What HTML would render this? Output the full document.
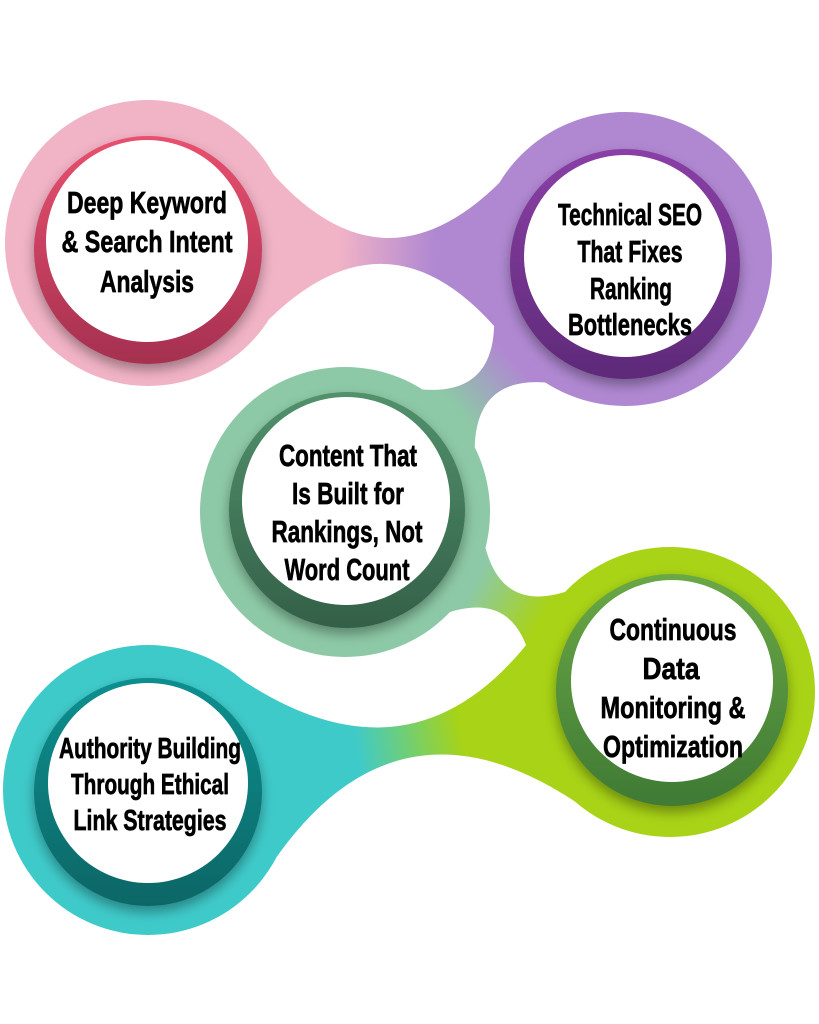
<!DOCTYPE html>
<html><head><meta charset="utf-8">
<style>
html,body{margin:0;padding:0;background:#fff;}
svg{display:block;}
text{font-family:"Liberation Sans Narrow","Liberation Sans",sans-serif;font-weight:bold;fill:#000;stroke:#000;stroke-width:0.7;text-anchor:middle;}
</style></head>
<body>
<svg id="s" width="819" height="1024" viewBox="0 0 819 1024" xmlns="http://www.w3.org/2000/svg">
<defs>
<filter id="sh" x="-30%" y="-30%" width="160%" height="160%"><feDropShadow dx="0" dy="6" stdDeviation="6" flood-color="#000" flood-opacity="0.35"/></filter>
<linearGradient id="gp" x1="0" y1="0" x2="0" y2="1"><stop offset="0" stop-color="#e9506f"/><stop offset="1" stop-color="#a53050"/></linearGradient>
<linearGradient id="gu" x1="0" y1="0" x2="0" y2="1"><stop offset="0" stop-color="#8a3fa6"/><stop offset="1" stop-color="#5e2a78"/></linearGradient>
<linearGradient id="gg" x1="0" y1="0" x2="0" y2="1"><stop offset="0" stop-color="#52916c"/><stop offset="1" stop-color="#336048"/></linearGradient>
<linearGradient id="gl" x1="0" y1="0" x2="0" y2="1"><stop offset="0" stop-color="#6aa845"/><stop offset="1" stop-color="#3f7a35"/></linearGradient>
<linearGradient id="gt" x1="0" y1="0" x2="0" y2="1"><stop offset="0" stop-color="#0d8f8f"/><stop offset="1" stop-color="#086666"/></linearGradient>
</defs>
<g id="necks"></g>
<circle cx="148" cy="243" r="143" fill="#f1b3c6"/>
<circle cx="625" cy="259" r="147" fill="#b088d2"/>
<circle cx="345" cy="512" r="145" fill="#8dc9a6"/>
<circle cx="670" cy="692" r="145" fill="#a8d316"/>
<circle cx="148" cy="790" r="145" fill="#3fcaca"/>

<circle cx="148" cy="250" r="114" fill="url(#gp)" filter="url(#sh)"/>
<circle cx="147" cy="241" r="101" fill="#fff"/>
<circle cx="625" cy="264" r="115" fill="url(#gu)" filter="url(#sh)"/>
<circle cx="625" cy="256" r="101" fill="#fff"/>
<circle cx="347" cy="510" r="118" fill="url(#gg)" filter="url(#sh)"/>
<circle cx="346" cy="501" r="104" fill="#fff"/>
<circle cx="672" cy="690" r="116" fill="url(#gl)" filter="url(#sh)"/>
<circle cx="672" cy="681" r="101" fill="#fff"/>
<circle cx="148" cy="792" r="114" fill="url(#gt)" filter="url(#sh)"/>
<circle cx="148" cy="783" r="100" fill="#fff"/>

<g font-size="31">
<text x="147" y="213" textLength="160" lengthAdjust="spacingAndGlyphs">Deep Keyword</text>
<text x="147" y="252" textLength="171" lengthAdjust="spacingAndGlyphs">&amp; Search Intent</text>
<text x="147" y="292" textLength="94" lengthAdjust="spacingAndGlyphs">Analysis</text>

<text x="630" y="225" textLength="144" lengthAdjust="spacingAndGlyphs">Technical SEO</text>
<text x="630" y="262" textLength="105" lengthAdjust="spacingAndGlyphs">That Fixes</text>
<text x="631" y="299" textLength="82" lengthAdjust="spacingAndGlyphs">Ranking</text>
<text x="630" y="335" textLength="124" lengthAdjust="spacingAndGlyphs">Bottlenecks</text>

<text x="348" y="466" textLength="138" lengthAdjust="spacingAndGlyphs">Content That</text>
<text x="348" y="504" textLength="112" lengthAdjust="spacingAndGlyphs">Is Built for</text>
<text x="347" y="542" textLength="151" lengthAdjust="spacingAndGlyphs">Rankings, Not</text>
<text x="347" y="580" textLength="125" lengthAdjust="spacingAndGlyphs">Word Count</text>

<text x="673" y="640" textLength="127" lengthAdjust="spacingAndGlyphs">Continuous</text>
<text x="671" y="679" textLength="57" lengthAdjust="spacingAndGlyphs">Data</text>
<text x="673" y="718" textLength="145" lengthAdjust="spacingAndGlyphs">Monitoring &amp;</text>
<text x="673" y="757" textLength="140" lengthAdjust="spacingAndGlyphs">Optimization</text>
</g>
<g font-size="29">
<text x="150" y="758" textLength="182" lengthAdjust="spacingAndGlyphs">Authority Building</text>
<text x="150" y="794" textLength="158" lengthAdjust="spacingAndGlyphs">Through Ethical</text>
<text x="150" y="830" textLength="153" lengthAdjust="spacingAndGlyphs">Link Strategies</text>
</g>
</svg>
<script>
(function(){
var NS="http://www.w3.org/2000/svg";
var g=document.getElementById("necks");var defs=document.querySelector("defs");
function neck(id,c1,r1,col1,c2,r2,col2,ang,pinch){
 var dx=c2[0]-c1[0],dy=c2[1]-c1[1],L=Math.hypot(dx,dy),ux=dx/L,uy=dy/L,nx=-uy,ny=ux;
 var a=ang*Math.PI/180,ca=Math.cos(a),sa=Math.sin(a);
 function P(c,r,s1,s2){return [c[0]+r*(s1*ca*ux+s2*sa*nx),c[1]+r*(s1*ca*uy+s2*sa*ny)];}
 var p1a=P(c1,r1,1,1),p1b=P(c1,r1,1,-1),p2a=P(c2,r2,-1,1),p2b=P(c2,r2,-1,-1);
 var m=[(c1[0]+c2[0])/2,(c1[1]+c2[1])/2];
 var qa=[m[0]+nx*pinch,m[1]+ny*pinch],qb=[m[0]-nx*pinch,m[1]-ny*pinch];
 var d="M"+p1a+" Q"+qa+" "+p2a+" L"+p2b+" Q"+qb+" "+p1b+" Z";
 var lg=document.createElementNS(NS,"linearGradient");
 lg.setAttribute("id",id);lg.setAttribute("gradientUnits","userSpaceOnUse");
 lg.setAttribute("x1",c1[0]);lg.setAttribute("y1",c1[1]);lg.setAttribute("x2",c2[0]);lg.setAttribute("y2",c2[1]);
 lg.innerHTML='<stop offset="0.4" stop-color="'+col1+'"/><stop offset="0.6" stop-color="'+col2+'"/>';
 defs.appendChild(lg);
 var p=document.createElementNS(NS,"path");p.setAttribute("d",d);p.setAttribute("fill","url(#"+id+")");g.appendChild(p);
}
neck("n1",[148,243],143,"#f1b3c6",[625,259],147,"#b088d2",50,-85);
neck("n2",[625,259],147,"#b088d2",[345,512],145,"#8dc9a6",50,-85);
neck("n3",[345,512],145,"#8dc9a6",[670,692],145,"#a8d316",50,-85);
neck("n4",[670,692],145,"#a8d316",[148,790],145,"#3fcaca",50,-78);
})();
</script>
</body></html>
